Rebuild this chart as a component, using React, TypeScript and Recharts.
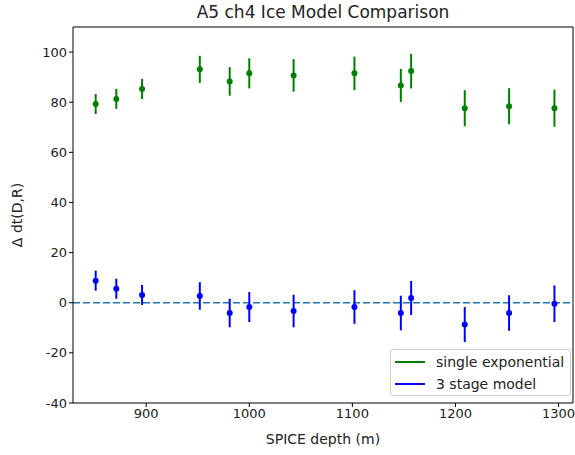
import React from "react";
import {
  ScatterChart,
  Scatter,
  XAxis,
  YAxis,
  ErrorBar,
  ReferenceLine,
  Label,
} from "recharts";

const depths = [851, 871, 896, 952, 981, 1000, 1043, 1102, 1147, 1157, 1209, 1252, 1296];
const singleExp = [79.3, 81.3, 85.3, 93.1, 88.3, 91.5, 90.7, 91.5, 86.7, 92.4, 77.6, 78.4, 77.6];
const singleExpErr = [4, 4, 4, 5.4, 5.7, 6, 6.5, 6.7, 6.6, 6.9, 7.2, 7.2, 7.4];
const threeStage = [8.8, 5.6, 3.1, 2.7, -4.1, -1.7, -3.3, -1.7, -4.1, 1.9, -8.7, -4.1, -0.4];
const threeStageErr = [4, 4, 4, 5.5, 5.7, 6, 6.5, 6.7, 6.9, 6.8, 7, 7.1, 7.3];
const xTicks = [900, 1000, 1100, 1200, 1300];
const yTicks = [-40, -20, 0, 20, 40, 60, 80, 100];
const xDomain = [829, 1314];
const yDomain = [-40, 110];

const GREEN = "#008000";
const BLUE = "#0000ff";
const FONT = "DejaVu Sans, sans-serif";
const TEXT = "#222";

const singleData = depths.map((d, i) => ({ depth: d, value: singleExp[i], err: singleExpErr[i] }));
const stageData = depths.map((d, i) => ({ depth: d, value: threeStage[i], err: threeStageErr[i] }));

const dot = (color: string) => (props: any) => (
  <circle cx={props.cx} cy={props.cy} r={3} fill={color} />
);

const LegendBox = () => (
  <div
    style={{
      position: "absolute",
      left: 390,
      top: 349,
      width: 181,
      height: 47,
      border: "1px solid #d0d0d0",
      borderRadius: 3,
      background: "rgba(255,255,255,0.85)",
      fontFamily: FONT,
      fontSize: 14,
      color: TEXT,
      boxSizing: "border-box",
      paddingTop: 1,
    }}
  >
    {[
      { c: GREEN, t: "single exponential" },
      { c: BLUE, t: "3 stage model" },
    ].map((e) => (
      <div key={e.t} style={{ display: "flex", alignItems: "center", height: 22 }}>
        <div style={{ width: 30, height: 2, background: e.c, marginLeft: 4, marginRight: 11 }} />
        <span>{e.t}</span>
      </div>
    ))}
  </div>
);

export default function App() {
  const tick = { fontSize: 13, fill: TEXT, fontFamily: FONT };
  const labelStyle = { fontSize: 14, fill: TEXT, fontFamily: FONT };
  return (
    <div style={{ position: "absolute", left: 0, top: 0, width: 575, height: 455, background: "#fff" }}>
      <div
        style={{
          position: "absolute",
          top: 2,
          left: 73,
          width: 500,
          textAlign: "center",
          fontFamily: FONT,
          fontSize: 17,
          color: TEXT,
        }}
      >
        A5 ch4 Ice Model Comparison
      </div>
      <ScatterChart width={575} height={455} margin={{ top: 27, right: 2, bottom: 10, left: 0 }}>
        <XAxis
          type="number"
          dataKey="depth"
          domain={xDomain}
          ticks={xTicks}
          allowDataOverflow
          tick={tick}
          tickSize={4}
          stroke="#000"
          height={42}
        >
          <Label value="SPICE depth (m)" position="insideBottom" offset={1} style={labelStyle} />
        </XAxis>
        <YAxis
          type="number"
          dataKey="value"
          domain={yDomain}
          ticks={yTicks}
          allowDataOverflow
          tick={tick}
          tickSize={4}
          stroke="#000"
          width={73}
        >
          <Label
            value="Δ dt(D,R)"
            angle={-90}
            position="insideLeft"
            offset={17}
            style={{ ...labelStyle, textAnchor: "middle" }}
          />
        </YAxis>
        {/* top and right spines */}
        <ReferenceLine y={yDomain[1]} stroke="#000" strokeWidth={1} />
        <ReferenceLine x={xDomain[1]} stroke="#000" strokeWidth={1} />
        <ReferenceLine y={0} stroke="#1f77b4" strokeWidth={1.5} strokeDasharray="7 3" />
        <Scatter data={singleData} fill={GREEN} shape={dot(GREEN)} isAnimationActive={false}>
          <ErrorBar dataKey="err" direction="y" width={0} stroke={GREEN} strokeWidth={2} isAnimationActive={false} />
        </Scatter>
        <Scatter data={stageData} fill={BLUE} shape={dot(BLUE)} isAnimationActive={false}>
          <ErrorBar dataKey="err" direction="y" width={0} stroke={BLUE} strokeWidth={2} isAnimationActive={false} />
        </Scatter>
      </ScatterChart>
      <LegendBox />
    </div>
  );
}
